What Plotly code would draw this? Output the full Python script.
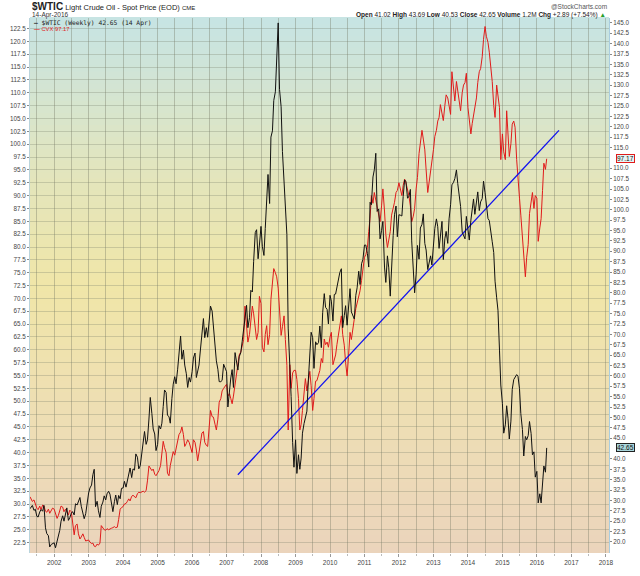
import plotly.graph_objects as go
import pandas as pd

# ---------------- data (semi-monthly readings: 1st and 15th of each month) ----------------
WTIC_2001 = [28.0, 28.3, 28.8, 27.6, 27.9, 26.2, 26.0, 27.2, 27.8, 27.4, 28.8, 23.4, 22.0, 21.5, 18.8, 19.4, 19.6]
WTIC_2002 = [19.8, 18.6, 20.0, 21.2, 22.8, 25.0, 26.3, 25.0, 26.5, 28.2, 25.2, 25.8, 26.9, 27.3, 26.5, 29.2, 28.9, 29.8, 30.7, 28.6, 27.1, 25.6, 26.8, 29.6]
WTIC_2003 = [31.8, 33.0, 33.7, 36.2, 37.5, 28.5, 29.8, 27.5, 25.9, 28.6, 29.6, 31.1, 30.1, 31.6, 32.2, 31.5, 29.2, 27.3, 29.7, 31.3, 29.0, 31.2, 30.4, 32.9]
WTIC_2004 = [33.0, 34.6, 33.2, 34.8, 36.6, 37.8, 35.5, 37.6, 37.3, 41.2, 40.4, 37.6, 38.4, 41.0, 43.8, 46.6, 43.5, 44.6, 49.6, 54.8, 50.9, 47.2, 46.0, 42.0]
WTIC_2005 = [43.5, 48.0, 47.2, 48.6, 52.6, 56.6, 56.0, 50.5, 50.2, 48.6, 54.5, 58.0, 59.8, 58.1, 61.6, 65.6, 69.6, 64.0, 66.2, 62.6, 60.5, 57.2, 59.6, 58.5]
WTIC_2006 = [61.0, 64.3, 65.5, 59.6, 61.6, 62.6, 66.7, 69.5, 73.8, 69.2, 71.6, 69.3, 74.0, 76.8, 75.6, 71.8, 68.8, 63.6, 61.6, 58.6, 58.6, 58.9, 62.8, 61.8]
WTIC_2007 = [61.0, 52.5, 57.5, 59.5, 61.5, 57.2, 65.6, 63.6, 61.4, 64.6, 65.6, 68.2, 71.0, 74.5, 77.0, 71.6, 74.0, 80.6, 80.2, 87.6, 94.5, 95.2, 88.2, 91.5]
WTIC_2008 = [96.0, 91.2, 89.0, 95.5, 101.8, 108.5, 101.5, 117.5, 119.0, 126.3, 128.4, 134.6, 145.0, 129.0, 124.8, 114.0, 107.8, 101.2, 94.0, 71.5, 64.0, 55.0, 44.0, 38.0]
WTIC_2009 = [44.6, 36.5, 41.0, 37.5, 40.2, 46.2, 48.5, 50.2, 51.5, 58.5, 66.3, 70.5, 69.2, 61.8, 68.2, 67.5, 68.0, 72.0, 66.8, 75.2, 79.8, 76.5, 76.0, 72.5]
WTIC_2010 = [79.4, 78.0, 73.2, 79.6, 79.7, 81.2, 83.8, 84.9, 85.8, 71.6, 74.5, 76.9, 72.2, 76.4, 81.0, 75.4, 74.6, 73.7, 79.4, 81.2, 85.2, 82.0, 87.0, 88.0]
WTIC_2011 = [91.5, 91.5, 89.5, 86.2, 101.8, 101.2, 107.9, 109.6, 113.6, 99.6, 100.2, 93.0, 95.0, 97.2, 86.2, 82.5, 88.9, 86.0, 79.2, 86.8, 93.8, 98.8, 100.9, 93.5]
WTIC_2012 = [98.8, 98.7, 98.5, 103.2, 107.2, 106.8, 102.8, 103.1, 104.9, 92.5, 84.0, 80.0, 84.5, 91.4, 88.1, 95.6, 96.5, 99.0, 91.9, 90.3, 85.6, 86.9, 88.9, 86.7]
WTIC_2013 = [93.1, 95.5, 97.8, 95.9, 90.7, 93.5, 97.2, 88.0, 93.0, 94.8, 91.9, 97.8, 101.2, 106.0, 106.6, 107.5, 109.6, 106.3, 102.8, 100.8, 94.6, 93.8, 93.0, 98.4]
WTIC_2014 = [95.4, 92.7, 97.5, 100.3, 102.6, 98.9, 101.3, 104.3, 99.8, 101.9, 102.7, 106.9, 104.1, 100.8, 97.9, 97.4, 94.0, 92.3, 89.7, 82.8, 78.8, 75.8, 66.2, 57.8]
WTIC_2015 = [53.3, 46.2, 48.2, 52.8, 49.8, 44.8, 49.1, 56.7, 59.1, 59.7, 60.3, 59.9, 56.9, 50.9, 47.1, 40.7, 45.4, 44.6, 45.6, 49.0, 46.1, 41.0, 41.7, 35.6]
WTIC_2016 = [37.0, 29.4, 31.6, 29.4, 34.4, 38.3, 36.8, 39.7, 42.65]

CVX_2001 = [31.4, 31.0, 30.5, 30.8, 29.8, 29.2, 28.9, 29.6, 28.9, 29.8, 29.6, 28.6, 28.4, 29.0, 28.2, 28.8, 29.2]
CVX_2002 = [29.0, 28.0, 27.2, 27.8, 29.0, 29.6, 29.4, 28.5, 29.0, 28.6, 27.9, 28.8, 28.5, 26.5, 24.0, 25.8, 26.1, 24.2, 23.2, 23.6, 24.2, 23.5, 22.8, 22.9]
CVX_2003 = [23.0, 22.6, 22.3, 22.4, 21.8, 21.7, 22.2, 22.0, 22.4, 25.8, 25.3, 25.0, 24.9, 25.2, 25.0, 25.2, 25.3, 25.4, 25.6, 25.4, 25.5, 27.0, 29.0, 29.3]
CVX_2004 = [29.5, 30.0, 30.1, 30.5, 31.0, 30.6, 31.5, 31.7, 31.5, 31.2, 32.0, 32.3, 32.2, 32.4, 32.5, 32.3, 32.6, 34.5, 37.4, 37.0, 36.5, 36.8, 35.8, 35.5]
CVX_2005 = [36.0, 36.5, 37.5, 40.0, 42.2, 41.0, 40.0, 36.0, 35.5, 37.5, 39.3, 40.2, 39.5, 40.6, 42.0, 43.5, 44.0, 45.0, 43.5, 41.2, 41.8, 42.5, 42.0, 41.0]
CVX_2006 = [40.0, 42.5, 42.0, 40.5, 38.4, 40.0, 42.5, 43.8, 44.1, 42.0, 41.4, 41.2, 45.0, 48.2, 47.0, 46.9, 45.5, 44.4, 46.5, 49.8, 50.5, 52.0, 52.5, 53.0]
CVX_2007 = [53.3, 51.0, 51.5, 50.5, 49.5, 51.0, 53.5, 55.5, 57.5, 59.0, 59.6, 60.5, 62.0, 68.5, 63.4, 61.5, 63.0, 66.0, 68.5, 67.0, 64.7, 62.0, 63.4, 70.4]
CVX_2008 = [69.0, 60.5, 59.6, 63.0, 64.7, 61.0, 63.0, 69.8, 73.0, 75.8, 75.0, 74.2, 72.0, 66.6, 62.8, 64.5, 66.6, 62.0, 57.0, 44.4, 57.1, 52.5, 55.5, 56.0]
CVX_2009 = [56.0, 54.2, 50.5, 44.4, 45.5, 48.2, 51.0, 54.4, 52.0, 53.5, 55.8, 53.0, 48.2, 50.5, 53.9, 54.0, 55.2, 56.0, 58.3, 57.5, 62.1, 61.0, 61.5, 60.5]
CVX_2010 = [62.5, 63.4, 57.1, 58.0, 59.0, 61.0, 63.4, 64.5, 66.6, 63.0, 60.9, 57.5, 54.9, 58.5, 63.4, 62.0, 64.7, 66.0, 68.0, 69.1, 70.4, 71.5, 73.5, 75.5]
CVX_2011 = [78.0, 78.5, 79.9, 83.0, 85.6, 90.0, 88.5, 90.6, 89.0, 87.5, 86.0, 84.9, 88.0, 91.3, 87.0, 82.4, 79.9, 81.5, 83.0, 86.2, 87.5, 88.7, 90.6, 91.0]
CVX_2012 = [92.5, 91.0, 90.0, 92.0, 93.2, 92.5, 91.3, 90.0, 88.0, 84.9, 86.0, 87.5, 91.3, 93.5, 98.2, 100.5, 102.7, 101.0, 98.9, 95.0, 90.6, 92.5, 94.5, 96.3]
CVX_2013 = [99.0, 101.5, 102.7, 104.5, 105.2, 107.7, 105.5, 104.6, 107.5, 109.6, 109.0, 107.0, 105.8, 114.1, 110.5, 108.4, 112.2, 110.0, 107.5, 106.5, 110.0, 111.5, 112.0, 113.8]
CVX_2014 = [107.1, 104.5, 102.0, 104.0, 105.8, 107.5, 109.0, 112.0, 114.1, 114.7, 117.0, 120.4, 122.9, 121.0, 119.8, 117.9, 115.0, 112.2, 107.5, 105.2, 111.5, 109.0, 107.1, 97.0]
CVX_2015 = [102.0, 98.5, 97.0, 106.5, 101.0, 97.6, 100.1, 103.9, 104.5, 103.3, 97.0, 92.5, 89.5, 86.2, 82.0, 79.0, 74.2, 78.0, 80.5, 86.5, 89.5, 90.6, 87.5, 90.0]
CVX_2016 = [89.5, 81.1, 83.7, 85.5, 91.0, 96.3, 95.1, 96.0, 97.17]

DATES_2001 = ["2001-04-20"] + [f"2001-{m:02d}-{d:02d}" for m in range(5, 13) for d in (1, 15)]
DATES_2016 = ["2016-01-01", "2016-01-15", "2016-02-01", "2016-02-15", "2016-03-01",
              "2016-03-15", "2016-04-01", "2016-04-08", "2016-04-14"]

TREND_DATES = ["2007-05-01", "2016-08-22"]
TREND_VALUES = [35.7, 102.7]

YEAR_TICKS = list(range(2002, 2019))
LEFT_TICKS = [22.5 + 2.5 * i for i in range(41)]
# right-axis labels hidden behind the last-value boxes (112.5 and 42.5) are left out
RIGHT_TICKS = [v for v in [20.0 + 2.5 * i for i in range(51)] if v not in (112.5, 42.5)]

# ---------------- assemble series ----------------
wtic_years = [WTIC_2002, WTIC_2003, WTIC_2004, WTIC_2005, WTIC_2006, WTIC_2007, WTIC_2008,
              WTIC_2009, WTIC_2010, WTIC_2011, WTIC_2012, WTIC_2013, WTIC_2014, WTIC_2015]
cvx_years = [CVX_2002, CVX_2003, CVX_2004, CVX_2005, CVX_2006, CVX_2007, CVX_2008,
             CVX_2009, CVX_2010, CVX_2011, CVX_2012, CVX_2013, CVX_2014, CVX_2015]

dates = list(DATES_2001)
wtic = list(WTIC_2001)
cvx = list(CVX_2001)
for i, (wy, cy) in enumerate(zip(wtic_years, cvx_years)):
    yr = 2002 + i
    dates += [f"{yr}-{m:02d}-{d:02d}" for m in range(1, 13) for d in (1, 15)]
    wtic += wy
    cvx += cy
dates += DATES_2016
wtic += WTIC_2016
cvx += CVX_2016
assert len(dates) == len(wtic) == len(cvx), (len(dates), len(wtic), len(cvx))
dates = pd.to_datetime(dates)

# ---------------- geometry helpers (pixels -> paper) ----------------
W, H = 640, 576
ML, MR, MT, MB = 29, 30, 18, 10
PW, PH = W - ML - MR, H - MT - MB


def px(x):
    return (x - ML) / PW


def py(y):
    return (H - MB - y) / PH


fig = go.Figure()

fig.add_trace(go.Scatter(x=dates, y=cvx, mode="lines", yaxis="y",
                         line=dict(color="#e01b1b", width=1), hoverinfo="skip"))
fig.add_trace(go.Scatter(x=dates, y=wtic, mode="lines", yaxis="y2",
                         line=dict(color="#111111", width=1), hoverinfo="skip"))
fig.add_trace(go.Scatter(x=pd.to_datetime(TREND_DATES), y=TREND_VALUES, mode="lines", yaxis="y",
                         line=dict(color="#1010f0", width=1.3), hoverinfo="skip"))

# background gradient (teal -> yellow -> peach)
stops = [(0.0, (235, 212, 188)), (0.25, (238, 222, 180)), (0.5, (240, 230, 168)),
         (0.72, (226, 229, 190)), (1.0, (198, 228, 228))]


def col_at(t):
    for (t0, c0), (t1, c1) in zip(stops[:-1], stops[1:]):
        if t0 <= t <= t1:
            f = (t - t0) / (t1 - t0)
            return tuple(round(a + (b - a) * f) for a, b in zip(c0, c1))
    return stops[-1][1]


NB = 90
shapes = []
for k in range(NB):
    t0, t1 = k / NB, (k + 1) / NB
    c = col_at((t0 + t1) / 2)
    shapes.append(dict(type="rect", xref="paper", yref="paper", x0=0, x1=1, y0=t0, y1=t1 + 0.002,
                       fillcolor=f"rgb{c}", line=dict(width=0), layer="below"))

FONT = "Liberation Sans, Arial, sans-serif"
MONO = "DejaVu Sans Mono, monospace"

annotations = [
    dict(xref="paper", yref="paper", x=px(29), y=py(6.5), xanchor="left", yanchor="middle",
         text="<b><span style='font-size:10px'>$WTIC</span></b> Light Crude Oil - Spot Price (EOD) "
              "<span style='font-size:6px'>CME</span>",
         showarrow=False, font=dict(family=FONT, size=7.5, color="#222")),
    dict(xref="paper", yref="paper", x=px(29), y=py(15), xanchor="left", yanchor="middle",
         text="14-Apr-2016", showarrow=False, font=dict(family=FONT, size=6.5, color="#333")),
    dict(xref="paper", yref="paper", x=px(610), y=py(6), xanchor="right", yanchor="middle",
         text="@StockCharts.com", showarrow=False, font=dict(family=FONT, size=6.5, color="#555")),
    dict(xref="paper", yref="paper", x=px(609), y=py(15), xanchor="right", yanchor="middle",
         text="<b>Open</b> 41.02 <b>High</b> 43.69 <b>Low</b> 40.53 <b>Close</b> 42.65 "
              "<b>Volume</b> 1.2M <b>Chg</b> +2.89 (+7.54%) <span style='color:#2a9d2a'>▲</span>",
         showarrow=False, font=dict(family=FONT, size=6.5, color="#222")),
    dict(xref="paper", yref="paper", x=px(31), y=py(23), xanchor="left", yanchor="middle",
         text="<b>—</b> $WTIC (Weekly) 42.65 (14 Apr)", showarrow=False,
         font=dict(family=MONO, size=6.3, color="#222")),
    dict(xref="paper", yref="paper", x=px(31), y=py(29.5), xanchor="left", yanchor="middle",
         text="<b>—</b> CVX 97.17", showarrow=False,
         font=dict(family=FONT, size=5.8, color="#e01b1b")),
    dict(xref="paper", yref="y", x=1, y=CVX_2016[-1], xanchor="left", yanchor="middle", xshift=7,
         text="97.17", showarrow=False, font=dict(family=FONT, size=6.5, color="#111"),
         bgcolor="#e6f3f3", bordercolor="#e01b1b", borderwidth=1, borderpad=0),
    dict(xref="paper", yref="y2", x=1, y=WTIC_2016[-1], xanchor="left", yanchor="middle", xshift=7,
         text="42.65", showarrow=False, font=dict(family=FONT, size=6.5, color="#111"),
         bgcolor="#a9d6dc", bordercolor="#222", borderwidth=1, borderpad=0),
]

GRID = "rgba(120,125,105,0.30)"
VGRID = "rgba(110,115,95,0.36)"

fig.update_layout(
    width=W, height=H, autosize=False,
    margin=dict(l=ML, r=MR, t=MT, b=MB, pad=0),
    paper_bgcolor="white", plot_bgcolor="rgb(240,230,168)",
    showlegend=False,
    shapes=shapes,
    annotations=annotations,
    xaxis=dict(
        type="date", range=["2001-04-20", "2018-02-03"],
        tickmode="array", tickvals=[f"{y}-01-01" for y in YEAR_TICKS],
        ticktext=[str(y) for y in YEAR_TICKS],
        ticks="outside", ticklen=3, tickcolor="#999",
        tickfont=dict(family=FONT, size=6.5, color="#444"),
        showgrid=True, gridcolor=VGRID, gridwidth=1,
        minor=dict(tickvals=[f"{y}-07-01" for y in range(2001, 2018)], showgrid=True,
                   gridcolor=VGRID, ticks="outside", ticklen=2, tickcolor="#bbb"),
        showline=False, zeroline=False, fixedrange=True,
    ),
    yaxis=dict(
        range=[20.47, 124.55], tickmode="array", tickvals=LEFT_TICKS,
        ticktext=[f"{v:.1f}" for v in LEFT_TICKS],
        ticks="outside", ticklen=2, tickcolor="#888",
        tickfont=dict(family=FONT, size=6.3, color="#444"),
        showgrid=True, gridcolor=GRID, gridwidth=1, zeroline=False,
        showline=True, linecolor="#b9d4dc", linewidth=1,
    ),
    yaxis2=dict(
        overlaying="y", side="right", range=[17.34, 146.18], tickmode="array", tickvals=RIGHT_TICKS,
        ticktext=[f"{v:.1f}" for v in RIGHT_TICKS], ticks="outside", ticklen=2, tickcolor="#888",
        tickfont=dict(family=FONT, size=6.3, color="#444"),
        showgrid=False, zeroline=False, showline=True, linecolor="#a9cde0", linewidth=1,
    ),
)

fig.write_html("out.html", config={"displayModeBar": False},
               post_script="document.body.style.margin='0';document.body.style.overflow='hidden';")
